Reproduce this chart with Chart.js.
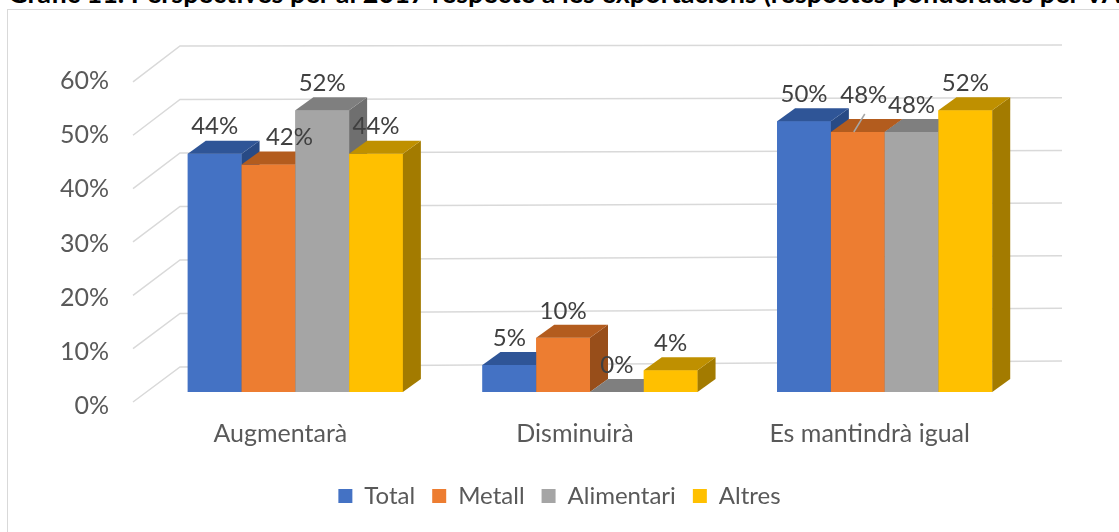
<!DOCTYPE html>
<html><head><meta charset="utf-8">
<script src="https://cdn.jsdelivr.net/npm/chart.js@4"></script>
<style>
html,body{margin:0;padding:0;background:#fff;overflow:hidden;width:1119px;height:532px;}
#frame{position:absolute;left:7px;top:9px;width:1300px;height:700px;border:1px solid #d9d9d9;box-sizing:border-box;}
#title{position:absolute;left:8px;top:-21px;font:bold 27px Lato,sans-serif;color:#000;white-space:nowrap;line-height:27px;}
canvas{position:absolute;left:0;top:0;}
</style></head><body>
<div id="title">Gràfic 11. Perspectives per al 2017 respecte a les exportacions (respostes ponderades per VAB)</div>
<div id="frame"></div>
<canvas id="c" width="1119" height="532"></canvas>
<script>
const categories = ['Augmentarà', 'Disminuirà', 'Es mantindrà igual'];
const seriesNames = ['Total', 'Metall', 'Alimentari', 'Altres'];
const total = [44, 5, 50];
const metall = [42, 10, 48];
const alimentari = [52, 0, 48];
const altres = [44, 4, 52];
const yTicks = [0, 10, 20, 30, 40, 50, 60];

const FRONT = ['#4472c4', '#ed7d31', '#a5a5a5', '#ffc000'];
const TOP = ['#2f5597', '#b35c1e', '#7f7f7f', '#bf9000'];
const SIDE = ['#284a85', '#984e1a', '#6f6f6f', '#a37b00'];
const DX = 18, DY = -13;
const FONT = 'Lato, "Open Sans", sans-serif';
// manual label nudges (datasetIndex,categoryIndex) -> [dx,dy]
const labelNudge = {'1,0': [21, 0], '1,2': [6, -10]};

function poly(ctx, pts) {
  ctx.beginPath();
  ctx.moveTo(pts[0][0], pts[0][1]);
  for (let k = 1; k < pts.length; k++) ctx.lineTo(pts[k][0], pts[k][1]);
  ctx.closePath();
  ctx.fill();
}

const bars3d = {
  id: 'bars3d',
  beforeDatasetsDraw(chart) {
    const {ctx, chartArea: ca, scales: {y}} = chart;
    const base = y.getPixelForValue(0);
    ctx.save();
    ctx.strokeStyle = '#d9d9d9';
    ctx.lineWidth = 1.5;
    yTicks.forEach(v => {
      const py = y.getPixelForValue(v);
      const fy = base + 10 + (py - base) * 0.985;
      const bl = base - 25 + (py - base) * 0.988;
      const br = base - 31 + (py - base) * 0.972;
      ctx.beginPath();
      ctx.moveTo(ca.left - 15, fy);
      ctx.lineTo(ca.left + 32, bl);
      ctx.lineTo(ca.right + 30, br);
      ctx.stroke();
    });
    ctx.restore();
  },
  afterDatasetsDraw(chart) {
    const {ctx} = chart;
    const metas = chart.data.datasets.map((d, i) => chart.getDatasetMeta(i));
    ctx.save();
    for (let j = 0; j < categories.length; j++) {
      metas.forEach((m, i) => {
        const el = m.data[j];
        const {x, y, base, width} = el.getProps(['x', 'y', 'base', 'width'], true);
        const l = x - width / 2, r = x + width / 2;
        ctx.fillStyle = FRONT[i];
        ctx.fillRect(l, y, width, base - y);
        ctx.fillStyle = SIDE[i];
        poly(ctx, [[r, y], [r + DX, y + DY], [r + DX, base + DY], [r, base]]);
        ctx.fillStyle = TOP[i];
        poly(ctx, [[l, y], [r, y], [r + DX, y + DY], [l + DX, y + DY]]);
      });
    }
    ctx.fillStyle = '#404040';
    ctx.font = '24px ' + FONT;
    ctx.textAlign = 'center';
    ctx.textBaseline = 'middle';
    metas.forEach((m, i) => {
      m.data.forEach((el, j) => {
        const {x, y} = el.getProps(['x', 'y'], true);
        const n = labelNudge[i + ',' + j] || [0, 0];
        const v = chart.data.datasets[i].data[j];
        ctx.fillText(v + '%', x + n[0], y - 27 + n[1]);
        if (i === 1 && j === 2) {
          ctx.strokeStyle = '#a6a6a6';
          ctx.lineWidth = 1.5;
          ctx.beginPath();
          ctx.moveTo(x + 7, y - 18);
          ctx.lineTo(x - 4, y);
          ctx.stroke();
        }
      });
    });
    ctx.restore();
  }
};

const seriesData = [total, metall, alimentari, altres];
new Chart(document.getElementById('c'), {
  type: 'bar',
  data: {
    labels: categories,
    datasets: seriesNames.map((n, i) => ({
      label: n,
      data: seriesData[i],
      backgroundColor: FRONT[i],
      borderWidth: 0,
      categoryPercentage: 0.73,
      barPercentage: 1
    }))
  },
  options: {
    responsive: false,
    animation: false,
    layout: {padding: {top: 67, left: 0, right: 0, bottom: 14}},
    plugins: {
      tooltip: {enabled: false},
      title: {display: false},
      legend: {
        position: 'bottom',
        labels: {boxWidth: 14, boxHeight: 14, padding: 17, color: '#595959', font: {family: FONT, size: 24}}
      }
    },
    scales: {
      x: {
        grid: {display: false, drawTicks: false},
        border: {display: false},
        ticks: {color: '#595959', font: {family: FONT, size: 25}, padding: 27, labelOffset: -15, maxRotation: 0},
        afterFit(s) { s.height = 75; }
      },
      y: {
        min: 0, max: 60,
        grid: {display: false, drawTicks: false},
        border: {display: false},
        ticks: {stepSize: 10, color: '#595959', font: {family: FONT, size: 25}, padding: 39, labelOffset: 14,
          callback: v => v + '%'},
        afterFit(s) { s.width = 148; }
      },
      y2: {
        position: 'right',
        grid: {display: false, drawTicks: false},
        border: {display: false},
        ticks: {display: false},
        afterFit(s) { s.width = 87; }
      }
    }
  },
  plugins: [bars3d]
});
</script>
</body></html>
